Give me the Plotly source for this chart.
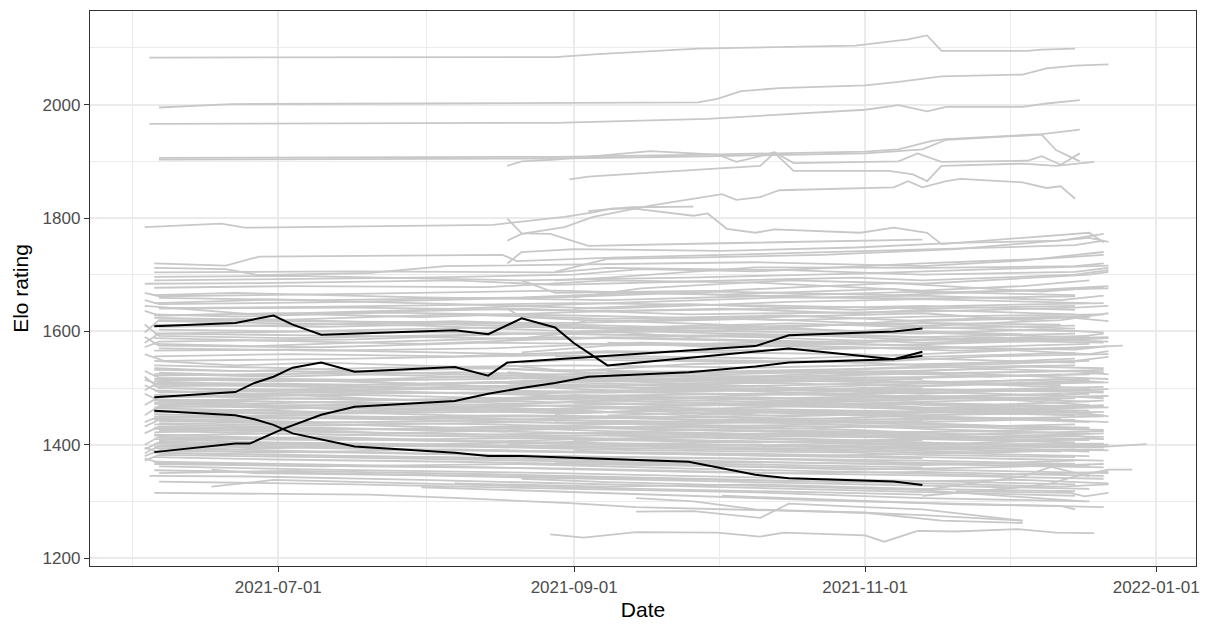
import pandas as pd
import plotly.graph_objects as go

# Rating snapshots: each vertex is (days since 2021-06-01, Elo rating)
SEASON_START = pd.Timestamp("2021-06-01")

# Four highlighted players
highlight_a_days = [4, 21, 29, 33, 39, 67, 74, 81, 88, 92, 99, 137, 159, 165]
highlight_a_elo = [1609, 1615, 1628, 1612, 1594, 1602, 1595, 1623, 1607, 1579, 1540, 1570, 1551, 1564]

highlight_b_days = [4, 21, 25, 29, 33, 39, 46, 67, 74, 78, 130, 137, 159, 165]
highlight_b_elo = [1484, 1493, 1509, 1520, 1536, 1545, 1529, 1537, 1522, 1545, 1574, 1593, 1600, 1605]

highlight_c_days = [4, 21, 25, 29, 33, 39, 46, 67, 74, 81, 116, 130, 137, 159, 165]
highlight_c_elo = [1460, 1452, 1445, 1435, 1420, 1409, 1397, 1386, 1380, 1380, 1370, 1347, 1341, 1335, 1329]

highlight_d_days = [4, 21, 24, 31, 39, 46, 67, 74, 81, 88, 95, 116, 130, 137, 159, 165]
highlight_d_elo = [1387, 1402, 1402, 1428, 1453, 1467, 1477, 1490, 1500, 1509, 1520, 1528, 1538, 1545, 1551, 1557]

# All other players in the pool
top_players = [
    [(3, 2083), (88, 2084), (97, 2089), (118, 2099), (151, 2104), (160, 2112), (162, 2115), (166, 2122), (169, 2095), (187, 2095), (190, 2097), (197, 2099)],
    [(5, 1995), (20, 2001), (60, 2002), (118, 2004), (122, 2010), (127, 2024), (135, 2029), (153, 2034), (160, 2040), (169, 2050), (186, 2053), (191, 2064), (197, 2069), (204, 2071)],
    [(3, 1966), (88, 1968), (120, 1975), (140, 1984), (153, 1991), (160, 1999), (166, 1988), (170, 1996), (186, 1996), (191, 2002), (198, 2008)],
    [(5, 1906), (88, 1908), (120, 1912), (153, 1917), (160, 1921), (167, 1936), (170, 1939), (190, 1948), (198, 1956)],
    [(5, 1903), (88, 1905), (120, 1909), (153, 1914), (160, 1918), (165, 1921), (170, 1938), (190, 1947), (193, 1920), (198, 1900)],
    [(78, 1892), (81, 1900), (88, 1903), (108, 1918), (122, 1912), (126, 1899), (131, 1909), (134, 1916), (138, 1897), (160, 1900), (164, 1914), (169, 1899), (187, 1901), (190, 1909), (194, 1894), (198, 1914)],
    [(91, 1868), (95, 1873), (108, 1880), (119, 1886), (131, 1892), (134, 1915), (138, 1883), (158, 1883), (163, 1877), (166, 1865), (169, 1892), (186, 1896), (193, 1892), (201, 1899)],
    [(2, 1784), (18, 1790), (23, 1783), (75, 1788), (90, 1802), (96, 1810), (100, 1817), (105, 1816), (117, 1804), (120, 1808), (124, 1781), (130, 1774), (134, 1780), (152, 1774), (159, 1783), (166, 1774), (169, 1754), (200, 1774), (203, 1757)],
    [(78, 1760), (81, 1772), (90, 1784), (96, 1802), (108, 1822), (123, 1842), (126, 1832), (131, 1837), (135, 1849), (159, 1854), (162, 1865), (165, 1854), (170, 1865), (173, 1869), (186, 1863), (191, 1853), (194, 1856), (197, 1834)],
    [(78, 1799), (81, 1773), (87, 1772), (95, 1751), (120, 1755), (150, 1760), (165, 1762)],
    [(95, 1812), (104, 1819), (117, 1820)],
]

upper_players = [
    [(4, 1720), (19, 1716), (26, 1732), (77, 1735), (80, 1724), (100, 1730), (137, 1738), (165, 1745), (197, 1752), (203, 1760)],
    [(4, 1712), (19, 1710), (26, 1699), (49, 1703), (65, 1715), (92, 1718), (130, 1722), (165, 1715), (186, 1725), (203, 1740)],
    [(4, 1704), (46, 1706), (88, 1704), (99, 1712), (137, 1708), (165, 1700), (197, 1705), (204, 1712)],
    [(4, 1690), (26, 1692), (60, 1695), (92, 1700), (106, 1710), (130, 1706), (165, 1720), (190, 1728), (203, 1735)],
    [(2, 1684), (26, 1685), (67, 1690), (88, 1682), (116, 1688), (151, 1695), (165, 1690), (197, 1700), (204, 1708)],
    [(4, 1677), (33, 1680), (74, 1678), (99, 1690), (130, 1686), (165, 1672), (186, 1680), (200, 1690)],
    [(2, 1668), (5, 1662), (46, 1666), (88, 1672), (123, 1665), (159, 1675), (165, 1668), (197, 1674), (204, 1676)],
    [(5, 1659), (39, 1655), (81, 1660), (106, 1668), (144, 1660), (165, 1663), (194, 1655), (203, 1663)],
    [(4, 1650), (29, 1656), (67, 1648), (99, 1640), (137, 1652), (165, 1657), (200, 1650)],
    [(78, 1720), (81, 1740), (92, 1745), (123, 1742), (151, 1748), (172, 1756), (194, 1760), (203, 1772)],
    [(88, 1705), (99, 1728), (116, 1730), (144, 1735), (172, 1745), (200, 1765), (204, 1758)],
    [(2, 1645), (25, 1630), (60, 1638), (99, 1650), (137, 1660), (165, 1658), (197, 1662)],
    [(81, 1690), (88, 1668), (123, 1672), (159, 1685), (190, 1670), (203, 1678)],
    [(92, 1660), (106, 1676), (137, 1690), (165, 1684), (200, 1700), (204, 1705)],
    [(5, 1641), (46, 1644), (92, 1650), (130, 1646), (165, 1640), (197, 1645)],
    [(88, 1690), (99, 1695), (130, 1713), (165, 1712), (197, 1715), (203, 1720)],
    [(4, 1664), (21, 1668), (60, 1660), (99, 1655), (130, 1662), (165, 1670), (197, 1664)],
    [(2, 1655), (5, 1648), (46, 1652), (88, 1660), (123, 1670), (159, 1664), (186, 1672), (204, 1680)],
    [(4, 1696), (33, 1698), (81, 1690), (116, 1695), (151, 1702), (179, 1710), (204, 1716)],
]

middle_players = [
    [(2, 1636), (5, 1628), (39, 1632), (81, 1640), (116, 1630), (165, 1635), (197, 1642), (204, 1645)],
    [(4, 1624), (29, 1620), (67, 1630), (99, 1622), (137, 1628), (165, 1618), (200, 1625)],
    [(2, 1598), (5, 1620), (46, 1617), (92, 1615), (130, 1622), (165, 1610), (194, 1620), (204, 1632)],
    [(4, 1612), (39, 1608), (74, 1614), (106, 1605), (151, 1612), (165, 1606), (197, 1610)],
    [(5, 1603), (33, 1600), (81, 1608), (123, 1600), (165, 1596), (190, 1604), (203, 1598)],
    [(2, 1580), (5, 1596), (46, 1592), (88, 1586), (130, 1595), (165, 1590), (197, 1596)],
    [(4, 1588), (25, 1584), (60, 1578), (99, 1590), (144, 1582), (165, 1586), (203, 1580)],
    [(2, 1590), (5, 1575), (39, 1572), (74, 1580), (116, 1576), (165, 1570), (200, 1578)],
    [(4, 1566), (33, 1568), (81, 1560), (123, 1566), (165, 1572), (197, 1568), (204, 1574)],
    [(4, 1630), (21, 1626), (53, 1633), (92, 1628), (137, 1620), (165, 1626), (203, 1630)],
    [(78, 1640), (81, 1625), (99, 1618), (130, 1625), (165, 1632), (186, 1620), (200, 1628)],
    [(88, 1605), (95, 1620), (123, 1612), (151, 1600), (172, 1612), (197, 1605)],
    [(5, 1618), (29, 1614), (60, 1610), (92, 1600), (116, 1605), (165, 1615), (194, 1612)],
    [(78, 1585), (92, 1598), (137, 1604), (165, 1598), (197, 1590), (203, 1596)],
    [(2, 1572), (5, 1582), (46, 1586), (81, 1596), (123, 1592), (165, 1580), (203, 1588)],
    [(81, 1563), (99, 1575), (130, 1580), (165, 1575), (200, 1560), (204, 1565)],
    [(4, 1556), (33, 1560), (67, 1556), (99, 1565), (151, 1560), (165, 1555), (197, 1562)],
    [(92, 1640), (116, 1648), (151, 1638), (172, 1645), (203, 1650)],
    [(4, 1596), (39, 1600), (88, 1596), (130, 1590), (165, 1600), (186, 1595)],
    [(5, 1640), (46, 1642), (99, 1636), (137, 1640), (165, 1645), (197, 1638)],
    [(99, 1600), (116, 1590), (144, 1596), (179, 1585), (204, 1590)],
    [(2, 1560), (6, 1548), (46, 1552), (88, 1558), (137, 1552), (165, 1560), (207, 1575)],
    [(4, 1628), (29, 1632), (60, 1625), (92, 1634), (123, 1640), (151, 1632), (165, 1638), (197, 1630)],
    [(5, 1608), (39, 1612), (67, 1618), (99, 1610), (130, 1604), (165, 1620), (194, 1626), (204, 1618)],
    [(2, 1612), (5, 1592), (33, 1588), (74, 1594), (106, 1600), (144, 1592), (165, 1585), (200, 1592)],
    [(4, 1578), (25, 1574), (53, 1582), (88, 1590), (123, 1584), (159, 1576), (186, 1582), (204, 1588)],
    [(5, 1570), (39, 1566), (74, 1570), (106, 1580), (144, 1574), (172, 1566), (200, 1572)],
    [(5, 1618), (25, 1622), (67, 1612), (99, 1606), (137, 1614), (165, 1608), (197, 1600)],
    [(99, 1580), (123, 1572), (151, 1580), (179, 1590), (204, 1582)],
]

core_players = [
    [(4, 1525), (29, 1520), (67, 1528), (99, 1522), (137, 1530), (165, 1536), (197, 1540)],
    [(2, 1530), (5, 1518), (46, 1515), (81, 1522), (116, 1530), (165, 1524), (203, 1532)],
    [(4, 1512), (25, 1516), (60, 1508), (92, 1514), (130, 1520), (165, 1510), (200, 1516)],
    [(5, 1508), (39, 1504), (74, 1510), (106, 1500), (144, 1506), (165, 1512), (194, 1505)],
    [(4, 1503), (33, 1506), (67, 1498), (99, 1492), (137, 1500), (165, 1495), (203, 1502)],
    [(2, 1520), (5, 1500), (46, 1496), (88, 1502), (123, 1510), (165, 1504), (197, 1512)],
    [(4, 1496), (21, 1490), (53, 1494), (92, 1486), (130, 1490), (165, 1498), (203, 1492)],
    [(5, 1492), (39, 1496), (81, 1505), (116, 1498), (165, 1485), (200, 1490)],
    [(4, 1488), (29, 1482), (67, 1478), (106, 1485), (151, 1480), (165, 1476), (197, 1482)],
    [(2, 1470), (5, 1484), (46, 1488), (88, 1480), (130, 1472), (165, 1480), (204, 1486)],
    [(4, 1480), (33, 1476), (74, 1470), (99, 1478), (144, 1468), (165, 1472), (194, 1466)],
    [(5, 1476), (25, 1472), (60, 1480), (99, 1486), (137, 1478), (165, 1466), (200, 1460)],
    [(4, 1472), (39, 1466), (81, 1462), (116, 1470), (165, 1474), (197, 1468)],
    [(2, 1452), (5, 1468), (46, 1464), (88, 1456), (130, 1462), (165, 1458), (203, 1452)],
    [(4, 1464), (29, 1460), (67, 1452), (106, 1448), (151, 1454), (165, 1460), (204, 1466)],
    [(5, 1458), (33, 1454), (74, 1458), (99, 1464), (137, 1456), (165, 1448), (197, 1444)],
    [(4, 1454), (21, 1450), (60, 1444), (92, 1438), (130, 1442), (165, 1436), (200, 1430)],
    [(2, 1440), (5, 1450), (46, 1446), (81, 1450), (123, 1444), (165, 1440), (194, 1446)],
    [(4, 1446), (39, 1440), (74, 1436), (106, 1430), (144, 1436), (165, 1432), (203, 1426)],
    [(5, 1442), (29, 1438), (67, 1442), (99, 1448), (137, 1440), (165, 1428), (197, 1420)],
    [(4, 1436), (25, 1432), (60, 1426), (92, 1430), (130, 1424), (165, 1420), (203, 1414)],
    [(2, 1420), (5, 1432), (46, 1428), (88, 1422), (123, 1416), (165, 1412), (200, 1408)],
    [(4, 1428), (33, 1424), (74, 1418), (106, 1422), (151, 1416), (165, 1410), (197, 1404)],
    [(5, 1424), (39, 1418), (81, 1414), (116, 1408), (165, 1402), (203, 1396)],
    [(4, 1418), (21, 1414), (53, 1408), (92, 1402), (130, 1398), (165, 1392), (194, 1388)],
    [(2, 1400), (5, 1414), (46, 1410), (88, 1404), (137, 1398), (165, 1394), (204, 1400)],
    [(4, 1410), (29, 1404), (67, 1400), (99, 1394), (144, 1390), (165, 1386), (200, 1380)],
    [(5, 1406), (33, 1400), (74, 1396), (106, 1390), (151, 1386), (165, 1382), (197, 1378)],
    [(4, 1402), (25, 1398), (60, 1392), (92, 1388), (130, 1384), (165, 1378), (203, 1372)],
    [(2, 1385), (5, 1398), (39, 1394), (81, 1388), (123, 1382), (165, 1376)],
    [(4, 1394), (29, 1390), (67, 1384), (99, 1378), (137, 1374), (165, 1368), (200, 1364)],
    [(5, 1390), (46, 1386), (88, 1380), (130, 1376), (165, 1372), (197, 1366)],
    [(4, 1386), (33, 1382), (74, 1376), (116, 1370), (165, 1366), (203, 1360)],
    [(2, 1372), (5, 1382), (39, 1378), (81, 1372), (123, 1366), (165, 1360)],
    [(78, 1540), (88, 1532), (116, 1528), (151, 1534), (172, 1540), (200, 1548)],
    [(81, 1520), (99, 1512), (130, 1518), (165, 1526), (197, 1530), (204, 1524)],
    [(88, 1500), (106, 1494), (137, 1500), (165, 1508), (194, 1516), (203, 1510)],
    [(78, 1482), (92, 1488), (123, 1480), (159, 1486), (186, 1478), (200, 1470)],
    [(81, 1460), (99, 1466), (137, 1472), (165, 1466), (197, 1458), (204, 1450)],
    [(88, 1440), (106, 1436), (144, 1442), (172, 1448), (200, 1440)],
    [(92, 1420), (116, 1426), (151, 1420), (179, 1414), (203, 1420)],
    [(78, 1400), (99, 1408), (130, 1404), (165, 1410), (197, 1416), (203, 1410)],
    [(81, 1545), (92, 1550), (130, 1546), (165, 1552), (197, 1545)],
    [(88, 1556), (116, 1550), (151, 1545), (179, 1556), (204, 1560)],
    [(4, 1532), (46, 1528), (88, 1520), (116, 1514)],
    [(2, 1515), (5, 1506), (53, 1500), (99, 1508), (130, 1502)],
    [(4, 1460), (39, 1456), (74, 1462), (106, 1456)],
    [(5, 1426), (46, 1422), (88, 1416), (123, 1420)],
    [(99, 1530), (123, 1524), (151, 1530), (179, 1520), (203, 1526)],
    [(106, 1505), (130, 1498), (165, 1490), (190, 1498), (203, 1494)],
    [(92, 1474), (116, 1470), (144, 1478), (172, 1484), (200, 1476)],
    [(99, 1452), (130, 1458), (159, 1452), (186, 1446), (204, 1440)],
    [(106, 1432), (137, 1428), (165, 1436), (194, 1430)],
    [(92, 1390), (116, 1396), (151, 1392), (179, 1386), (203, 1392)],
    [(4, 1535), (21, 1530), (53, 1536), (92, 1540), (130, 1536), (165, 1542), (197, 1548), (204, 1555)],
    [(2, 1496), (5, 1510), (46, 1506), (88, 1510), (137, 1516), (165, 1520), (200, 1524)],
    [(4, 1450), (33, 1446), (81, 1452), (123, 1448), (165, 1444), (203, 1450)],
    [(5, 1412), (39, 1408), (88, 1412), (130, 1406), (165, 1400), (203, 1402)],
    [(4, 1478), (46, 1474), (92, 1468), (137, 1462), (165, 1458), (197, 1452)],
    [(2, 1490), (5, 1478), (39, 1482), (81, 1476), (123, 1470), (165, 1464), (200, 1470)],
    [(4, 1516), (29, 1512), (74, 1516), (116, 1522), (165, 1518), (194, 1524)],
    [(5, 1484), (46, 1490), (92, 1494), (137, 1488), (165, 1492), (204, 1498)],
    [(4, 1466), (33, 1470), (67, 1466), (106, 1472), (151, 1466), (165, 1462), (200, 1456)],
    [(5, 1438), (39, 1434), (81, 1440), (123, 1434), (165, 1430), (197, 1436)],
    [(4, 1416), (29, 1420), (74, 1414), (116, 1418), (165, 1416), (203, 1410)],
    [(2, 1392), (5, 1404), (46, 1400), (92, 1396), (137, 1400), (165, 1396), (204, 1390)],
    [(4, 1522), (39, 1526), (88, 1516), (130, 1512), (165, 1516)],
    [(5, 1500), (29, 1496), (74, 1490), (116, 1494), (165, 1500)],
    [(4, 1444), (46, 1448), (88, 1444), (137, 1438), (165, 1442)],
    [(5, 1398), (39, 1402), (81, 1398), (123, 1404), (165, 1408)],
    [(81, 1512), (106, 1518), (144, 1512), (179, 1506), (204, 1510)],
    [(88, 1468), (116, 1462), (151, 1456), (186, 1462), (203, 1468)],
    [(99, 1416), (130, 1410), (165, 1404), (197, 1398)],
    [(92, 1494), (123, 1500), (159, 1494), (190, 1488), (203, 1482)],
    [(78, 1430), (99, 1424), (137, 1418), (172, 1424), (200, 1420)],
    [(137, 1405), (165, 1398), (200, 1395), (212, 1401)],
    [(4, 1548), (21, 1540), (39, 1545), (67, 1538), (92, 1530), (116, 1542), (144, 1548), (165, 1540), (197, 1552)],
    [(5, 1527), (25, 1522), (46, 1530), (74, 1535), (99, 1526), (123, 1518), (151, 1528), (179, 1534), (203, 1528)],
    [(2, 1505), (5, 1493), (33, 1497), (60, 1505), (92, 1515), (116, 1508), (144, 1498), (172, 1505), (200, 1512)],
    [(4, 1483), (29, 1490), (53, 1480), (81, 1472), (106, 1480), (137, 1490), (165, 1482), (194, 1490)],
    [(5, 1469), (21, 1474), (46, 1460), (74, 1466), (99, 1458), (130, 1466), (159, 1472), (186, 1464), (203, 1470)],
    [(4, 1457), (25, 1462), (60, 1470), (88, 1462), (116, 1452), (144, 1460), (165, 1452), (197, 1460)],
    [(2, 1432), (5, 1444), (33, 1438), (67, 1430), (99, 1436), (130, 1446), (165, 1438), (200, 1428)],
    [(4, 1422), (29, 1428), (53, 1420), (81, 1426), (116, 1434), (151, 1426), (172, 1418), (203, 1424)],
    [(5, 1408), (39, 1414), (74, 1406), (106, 1412), (137, 1420), (165, 1414), (194, 1406)],
    [(4, 1397), (21, 1392), (46, 1398), (81, 1404), (116, 1396), (151, 1388), (179, 1394), (200, 1388)],
    [(2, 1380), (5, 1390), (29, 1386), (67, 1392), (99, 1386), (137, 1380), (165, 1384), (197, 1392)],
    [(4, 1540), (33, 1535), (60, 1526), (92, 1520), (123, 1528), (165, 1530), (186, 1538), (203, 1535)],
    [(5, 1517), (46, 1512), (81, 1500), (116, 1506), (151, 1514), (172, 1508), (200, 1500)],
    [(4, 1474), (29, 1468), (60, 1474), (92, 1482), (130, 1476), (165, 1486), (194, 1480)],
    [(5, 1448), (33, 1452), (74, 1446), (106, 1440), (144, 1446), (165, 1452), (203, 1458)],
    [(4, 1430), (39, 1426), (81, 1432), (123, 1426), (165, 1422), (197, 1428)],
    [(78, 1528), (92, 1518), (116, 1512), (137, 1520), (165, 1528), (190, 1520), (204, 1516)],
    [(81, 1490), (99, 1480), (130, 1484), (151, 1476), (179, 1470), (203, 1478)],
    [(88, 1454), (106, 1460), (137, 1450), (165, 1456), (194, 1462)],
    [(92, 1408), (123, 1414), (151, 1408), (172, 1402), (200, 1410)],
]

lower_players = [
    [(3, 1345), (25, 1344), (60, 1338), (99, 1330), (137, 1322), (165, 1316), (197, 1310)],
    [(16, 1326), (29, 1338), (67, 1330), (106, 1322), (144, 1316), (165, 1312)],
    [(16, 1356), (25, 1350), (60, 1346), (92, 1340), (130, 1334), (165, 1328), (200, 1322)],
    [(4, 1315), (49, 1312), (68, 1306), (91, 1297), (105, 1290), (131, 1285), (153, 1280), (165, 1276), (186, 1266)],
    [(105, 1282), (117, 1283), (131, 1271), (137, 1296), (153, 1290), (165, 1286), (186, 1266)],
    [(4, 1370), (33, 1366), (74, 1360), (116, 1352), (165, 1346), (203, 1340)],
    [(5, 1362), (39, 1356), (88, 1350), (130, 1342), (165, 1336), (197, 1330)],
    [(2, 1376), (5, 1368), (46, 1362), (92, 1358), (137, 1350), (165, 1352), (203, 1345)],
    [(105, 1306), (117, 1300), (130, 1286), (153, 1280), (169, 1266), (186, 1262)],
    [(123, 1310), (151, 1302), (172, 1295), (194, 1292), (197, 1286)],
    [(165, 1320), (186, 1344), (192, 1361), (200, 1344)],
    [(165, 1310), (187, 1326), (192, 1332), (197, 1344), (204, 1356), (209, 1356)],
    [(172, 1318), (196, 1315), (199, 1309), (204, 1315)],
    [(81, 1340), (99, 1334), (137, 1326), (165, 1320), (199, 1300)],
    [(4, 1355), (39, 1350), (81, 1345), (123, 1338), (165, 1332), (194, 1326), (204, 1330)],
    [(5, 1335), (46, 1330), (92, 1322), (130, 1316), (165, 1306), (200, 1300)],
    [(60, 1325), (88, 1318), (116, 1310), (151, 1300), (172, 1296), (203, 1290)],
    [(4, 1378), (29, 1374), (67, 1370), (106, 1364), (144, 1360), (165, 1356), (204, 1350)],
    [(88, 1370), (116, 1364), (151, 1356), (179, 1360), (203, 1366)],
    [(2, 1395), (6, 1385), (46, 1380), (88, 1376), (130, 1370), (165, 1364), (197, 1372)],
    [(4, 1366), (39, 1362), (81, 1366), (116, 1358), (151, 1352), (179, 1346), (204, 1352)],
    [(5, 1350), (33, 1354), (74, 1348), (116, 1340), (151, 1334), (186, 1338), (204, 1332)],
    [(67, 1332), (99, 1326), (130, 1330), (165, 1322), (197, 1318)],
    [(87, 1242), (94, 1236), (105, 1246), (122, 1245), (131, 1238), (136, 1245), (153, 1240), (157, 1229), (164, 1248), (172, 1247), (185, 1251), (193, 1245), (201, 1244)],
]

# Axis breaks
x_breaks = ["2021-07-01", "2021-09-01", "2021-11-01", "2022-01-01"]
x_minor_breaks = ["2021-05-31 12:00", "2021-08-01", "2021-10-01 12:00", "2021-12-01 12:00"]
y_breaks = [1200, 1400, 1600, 1800, 2000]
y_minor_breaks = [1300, 1500, 1700, 1900, 2100]


def to_date(day):
    return SEASON_START + pd.Timedelta(days=day)


fig = go.Figure()

# Background field: one trace, players separated by gaps
gx, gy = [], []
for player in top_players + upper_players + middle_players + core_players + lower_players:
    for day, elo in player:
        gx.append(to_date(day))
        gy.append(elo)
    gx.append(None)
    gy.append(None)

fig.add_trace(go.Scatter(
    x=gx, y=gy, mode="lines", connectgaps=False,
    line=dict(color="#c8c8c8", width=1.8), hoverinfo="skip", showlegend=False,
))

for days, elos in [
    (highlight_a_days, highlight_a_elo),
    (highlight_b_days, highlight_b_elo),
    (highlight_c_days, highlight_c_elo),
    (highlight_d_days, highlight_d_elo),
]:
    fig.add_trace(go.Scatter(
        x=[to_date(d) for d in days], y=elos, mode="lines",
        line=dict(color="#000000", width=2), showlegend=False,
    ))

font_family = "Liberation Sans, Arial, sans-serif"
grid = "#ebebeb"
border = "#333333"

fig.update_layout(
    width=1209, height=626,
    margin=dict(l=90, r=9, t=11, b=52),
    paper_bgcolor="white", plot_bgcolor="white",
    font=dict(family=font_family),
    showlegend=False,
)

fig.update_xaxes(
    type="date",
    range=["2021-05-22 12:43", "2022-01-09 08:24"],
    tickmode="array", tickvals=x_breaks, ticktext=x_breaks,
    ticks="outside", ticklen=5, tickwidth=1.3, tickcolor=border,
    tickfont=dict(size=17, color="#4d4d4d", family=font_family),
    showgrid=True, gridcolor=grid, gridwidth=1.5,
    minor=dict(tickmode="array", tickvals=x_minor_breaks, showgrid=True,
               gridcolor=grid, gridwidth=0.8, ticks=""),
    showline=True, linecolor=border, linewidth=1.3, mirror=True,
    zeroline=False,
    title=dict(text="Date", font=dict(size=21, color="#000000", family=font_family), standoff=6),
)

fig.update_yaxes(
    range=[1186.1, 2165.2],
    tickmode="array", tickvals=y_breaks, ticktext=[str(v) for v in y_breaks],
    ticks="outside", ticklen=5, tickwidth=1.3, tickcolor=border,
    tickfont=dict(size=17, color="#4d4d4d", family=font_family),
    showgrid=True, gridcolor=grid, gridwidth=1.5,
    minor=dict(tickmode="array", tickvals=y_minor_breaks, showgrid=True,
               gridcolor=grid, gridwidth=0.8, ticks=""),
    showline=True, linecolor=border, linewidth=1.3, mirror=True,
    zeroline=False,
    title=dict(text="Elo rating", font=dict(size=21, color="#000000", family=font_family), standoff=8),
)

fig.write_html("out.html", config={"displayModeBar": False})
